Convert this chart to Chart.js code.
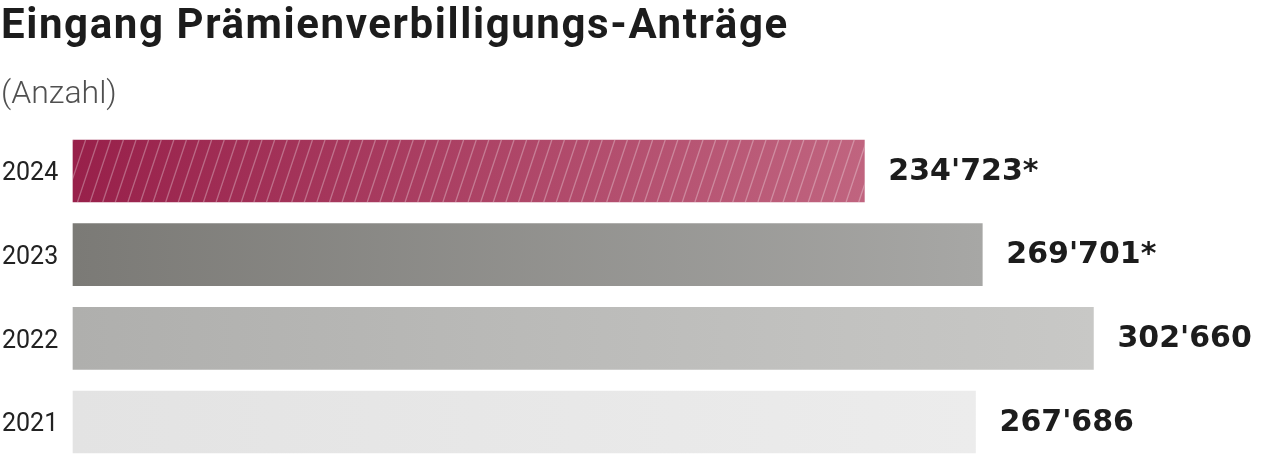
<!DOCTYPE html>
<html lang="de">
<head>
    <meta charset="UTF-8">
    <title>Eingang Prämienverbilligungs-Anträge</title>
    <script src="https://cdn.jsdelivr.net/npm/chart.js@4.4.1/dist/chart.umd.min.js"></script>
    <style>
        html, body { margin: 0; padding: 0; background: #fff; overflow: hidden; }
        .wrap { position: relative; width: 1280px; height: 456px; }
        h1 {
            position: absolute; left: 1px; top: -1px; margin: 0;
            font: 700 42px Roboto, sans-serif; color: #1c1c1c; letter-spacing: 1.6px;
        }
        .sub {
            position: absolute; left: 1px; top: 73px; margin: 0;
            font: 300 32px Roboto, sans-serif; color: #505050;
        }
        canvas { position: absolute; left: 0; top: 0; }
    </style>
</head>
<body>
    <div class="wrap">
        <canvas id="chart" width="1280" height="456"></canvas>
        <h1>Eingang Prämienverbilligungs-Anträge</h1>
        <p class="sub">(Anzahl)</p>
    </div>

    <script>
        // Data
        const years = ['2024', '2023', '2022', '2021'];
        const applications = [234723, 269701, 302660, 267686];
        const provisional = [true, true, false, false];   // marked with *

        // Colours (left / right end of each bar's gradient)
        const colorsLeft = ['#98204a', '#7b7a76', '#afafad', '#e3e3e3'];
        const colorsRight = ['#c0647f', '#a7a7a5', '#c8c8c6', '#ececec'];

        function formatNumber(n) {
            return String(n).replace(/\B(?=(\d{3})+(?!\d))/g, "'");
        }

        // horizontal gradient per bar
        function barGradient(ctx) {
            const chart = ctx.chart;
            const area = chart.chartArea;
            if (!area || ctx.type !== 'data') return colorsLeft[ctx.dataIndex] || '#ccc';
            const x0 = chart.scales.x.getPixelForValue(0);
            const x1 = chart.scales.x.getPixelForValue(ctx.raw);
            const g = chart.ctx.createLinearGradient(x0, 0, x1, 0);
            g.addColorStop(0, colorsLeft[ctx.dataIndex]);
            g.addColorStop(1, colorsRight[ctx.dataIndex]);
            return g;
        }

        // diagonal hatch on the 2024 bar + value labels
        const barExtras = {
            id: 'barExtras',
            afterDatasetsDraw(chart) {
                const c = chart.ctx;
                const meta = chart.getDatasetMeta(0);
                meta.data.forEach((bar, i) => {
                    const left = Math.min(bar.base, bar.x);
                    const right = Math.max(bar.base, bar.x);
                    const top = bar.y - bar.height / 2;
                    const bottom = bar.y + bar.height / 2;

                    if (provisional[i] && i === 0) {
                        c.save();
                        c.beginPath();
                        c.rect(left, top, right - left, bottom - top);
                        c.clip();
                        c.strokeStyle = 'rgba(255,255,255,0.3)';
                        c.lineWidth = 1.3;
                        const shift = (bottom - top) / 3;
                        for (let x = left - shift; x < right + shift; x += 12.6) {
                            c.beginPath();
                            c.moveTo(x, bottom);
                            c.lineTo(x + shift, top);
                            c.stroke();
                        }
                        c.restore();
                    }

                    c.save();
                    c.font = 'bold 30px "DejaVu Sans", sans-serif';
                    c.fillStyle = '#1c1c1c';
                    c.textAlign = 'left';
                    c.textBaseline = 'middle';
                    const label = formatNumber(applications[i]) + (provisional[i] ? '*' : '');
                    c.fillText(label, right + 24, bar.y + 1);
                    c.restore();
                });
            }
        };

        new Chart(document.getElementById('chart'), {
            type: 'bar',
            data: {
                labels: years,
                datasets: [{
                    data: applications,
                    backgroundColor: barGradient,
                    borderWidth: 0,
                    barThickness: 62,
                    clip: false
                }]
            },
            options: {
                indexAxis: 'y',
                responsive: false,
                animation: false,
                events: [],
                layout: { padding: { top: 171, bottom: 34, left: 2, right: 0 } },
                plugins: {
                    legend: { display: false },
                    tooltip: { enabled: false }
                },
                scales: {
                    x: {
                        display: false,
                        min: 0,
                        max: 358000
                    },
                    y: {
                        offset: false,
                        border: { display: false },
                        grid: { display: false, drawTicks: false },
                        afterFit(scale) { scale.width = 71; },
                        ticks: {
                            crossAlign: 'far',
                            padding: 0,
                            labelOffset: 3,
                            color: '#222',
                            font: { family: 'Roboto', size: 25, weight: 400 }
                        }
                    }
                }
            },
            plugins: [barExtras]
        });
    </script>
</body>
</html>
